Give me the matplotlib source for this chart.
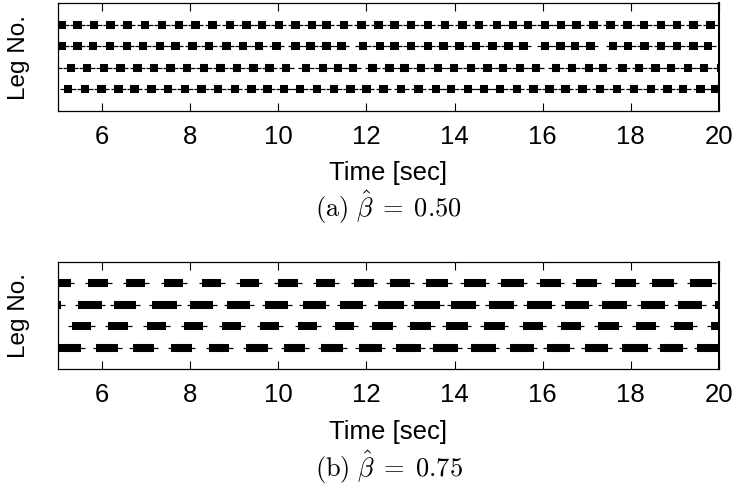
import matplotlib
matplotlib.use("Agg")
import matplotlib.pyplot as plt
import numpy as np

plt.rcParams['font.family'] = ['Liberation Sans', 'DejaVu Sans']
plt.rcParams['mathtext.fontset'] = 'cm'

# x axis
x_ticks = [6, 8, 10, 12, 14, 16, 18, 20]
x_limits = (5, 20)
leg_rows = [4, 3, 2, 1]   # top row first

# panel (a), beta = 0.50 : stance mid-times [sec] per row (top to bottom)
a_mid_row4 = [5.08, 5.44, 5.82, 6.19, 6.58, 6.97, 7.36, 7.75, 8.12, 8.51, 8.90, 9.28, 9.63,
              10.01, 10.39, 10.76, 11.09, 11.49, 11.89, 12.27, 12.64, 13.01, 13.39, 13.78,
              14.18, 14.56, 14.96, 15.32, 15.67, 16.05, 16.41, 16.77, 17.15, 17.54, 17.92,
              18.30, 18.68, 19.04, 19.42, 19.81]
a_mid_row3 = [5.08, 5.44, 5.80, 6.18, 6.56, 6.93, 7.31, 7.67, 8.05, 8.43, 8.82, 9.20, 9.56,
              9.96, 10.39, 10.73, 11.09, 11.43, 11.92, 12.30, 12.64, 13.01, 13.39, 13.75,
              14.11, 14.49, 14.86, 15.22, 15.56, 16.05, 16.40, 16.73, 17.08, 17.60, 17.94,
              18.31, 18.69, 19.05, 19.42, 19.75]
a_mid_row2 = [4.92, 5.29, 5.66, 6.04, 6.42, 6.80, 7.18, 7.55, 7.93, 8.31, 8.69, 9.06, 9.44,
              9.80, 10.18, 10.63, 11.01, 11.35, 11.69, 12.14, 12.52, 12.86, 13.24, 13.62,
              13.99, 14.37, 14.75, 15.10, 15.48, 15.85, 16.30, 16.67, 17.05, 17.37, 17.81,
              18.19, 18.56, 18.91, 19.30, 19.66, 20.05]
a_mid_row1 = [5.23, 5.61, 5.99, 6.37, 6.74, 7.12, 7.50, 7.88, 8.26, 8.63, 9.01, 9.39, 9.75,
              10.13, 10.49, 10.88, 11.26, 11.64, 12.00, 12.39, 12.79, 13.18, 13.58, 13.92,
              14.30, 14.67, 15.03, 15.41, 15.79, 16.15, 16.52, 16.90, 17.30, 17.68, 18.07,
              18.45, 18.83, 19.19, 19.58, 19.91]
a_stance = 0.19

# panel (b), beta = 0.75 : stance start / end times [sec] per row (top to bottom)
b_start_row4 = [4.90, 5.69, 6.55, 7.41, 8.27, 9.13, 9.99, 10.86, 11.72, 12.53, 13.35, 14.21,
                15.05, 15.93, 16.75, 17.63, 18.49, 19.35]
b_end_row4 = [5.29, 6.14, 6.98, 7.84, 8.70, 9.56, 10.45, 11.29, 12.17, 12.99, 13.85, 14.71,
              15.57, 16.41, 17.24, 18.11, 18.97, 19.85]
b_start_row3 = [4.90, 5.46, 6.26, 7.14, 8.00, 8.84, 9.70, 10.56, 11.40, 12.26, 13.08, 13.91,
                14.78, 15.64, 16.50, 17.34, 18.22, 19.06, 19.92]
b_end_row3 = [5.07, 5.99, 6.78, 7.71, 8.52, 9.36, 10.22, 11.08, 11.92, 12.85, 13.67, 14.48,
              15.34, 16.20, 17.04, 17.92, 18.77, 19.62, 20.30]
b_start_row2 = [5.31, 6.14, 7.01, 7.86, 8.73, 9.59, 10.45, 11.29, 12.13, 12.99, 13.80, 14.66,
                15.55, 16.41, 17.25, 18.11, 18.97, 19.81]
b_end_row2 = [5.76, 6.59, 7.46, 8.29, 9.16, 10.02, 10.88, 11.72, 12.60, 13.47, 14.30, 15.14,
              16.00, 16.86, 17.72, 18.56, 19.42, 20.30]
b_start_row1 = [4.90, 5.87, 6.70, 7.57, 8.43, 9.27, 10.13, 10.97, 11.83, 12.67, 13.51, 14.37,
                15.25, 16.09, 16.95, 17.81, 18.67, 19.51]
b_end_row1 = [5.53, 6.37, 7.18, 8.04, 8.88, 9.77, 10.61, 11.47, 12.35, 13.24, 14.08, 14.93,
              15.80, 16.63, 17.49, 18.38, 19.19, 20.30]

captions = [r'$\mathrm{(a)}\ \hat{\beta}\;=\;0.50$', r'$\mathrm{(b)}\ \hat{\beta}\;=\;0.75$']

FS = 18.5
TIP = 0.08


def draw_row(ax, y, starts, ends):
    starts = np.asarray(starts)
    ends = np.asarray(ends)
    ax.hlines([y] * len(starts), starts - TIP, ends + TIP, colors='black', lw=0.9)
    ax.hlines([y] * len(starts), starts, ends, colors='black', lw=5.8, capstyle='butt')


def style_axes(ax):
    ax.set_xlim(*x_limits)
    ax.set_ylim(0, 5)
    ax.set_xticks(x_ticks)
    ax.set_yticks([])
    ax.tick_params(axis='x', direction='in', length=6, width=0.8, top=True,
                   labelsize=FS, pad=10)
    for s in ax.spines.values():
        s.set_linewidth(0.9)
    ax.spines['right'].set_linewidth(1.5)
    ax.set_ylabel('Leg No.', fontsize=17.5)
    ax.yaxis.set_label_coords(-0.043, 0.5)
    ax.set_xlabel('Time [sec]', fontsize=FS, va='center')


fig = plt.figure(figsize=(7.34, 4.95), dpi=100)
ax_a = fig.add_axes([58 / 734, 1 - 111 / 495, 661 / 734, 108 / 495])
ax_b = fig.add_axes([58 / 734, 1 - 369 / 495, 661 / 734, 107 / 495])

a_rows = [a_mid_row4, a_mid_row3, a_mid_row2, a_mid_row1]
for y, mids in zip(leg_rows, a_rows):
    mids = np.asarray(mids)
    draw_row(ax_a, y, mids - a_stance / 2, mids + a_stance / 2)

b_rows = [(b_start_row4, b_end_row4), (b_start_row3, b_end_row3),
          (b_start_row2, b_end_row2), (b_start_row1, b_end_row1)]
for y, (st, en) in zip(leg_rows, b_rows):
    draw_row(ax_b, y, st, en)

style_axes(ax_a)
style_axes(ax_b)
ax_a.xaxis.set_label_coords(0.5, -0.57)
ax_b.xaxis.set_label_coords(0.5, -0.59)

fig.text(388.5 / 734, 1 - 207 / 495, captions[0], ha='center', va='center', fontsize=19)
fig.text(388.5 / 734, 1 - 467 / 495, captions[1], ha='center', va='center', fontsize=19)

fig.savefig('out.png', dpi=100)
